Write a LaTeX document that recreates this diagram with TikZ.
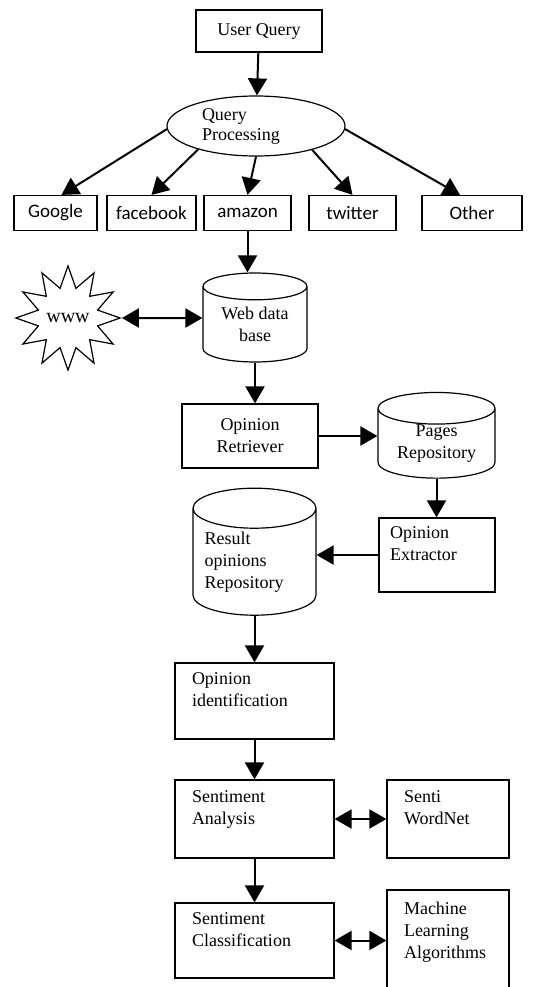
\documentclass[tikz,border=0pt]{standalone}
\usepackage{fontspec}
\setmainfont{Liberation Serif}
\newfontfamily\rowfont{Carlito}
\usetikzlibrary{arrows.meta,shapes.geometric}

\begin{document}
\begin{tikzpicture}[x=1pt,y=-1pt]
\tikzset{box/.style = {shape=rectangle,draw,line width=1.2pt,font=\fontsize{18}{22}\selectfont,inner sep=0pt}}
\tikzset{tbox/.style = {box,align=left,inner xsep=17pt}}
\tikzset{site/.style = {box,font=\rowfont\fontsize{19}{22}\selectfont,minimum height=35pt}}
\tikzset{dbase/.style = {shape=cylinder,draw,line width=1.2pt,shape border rotate=90,aspect=0.4,font=\fontsize{18}{22}\selectfont,inner sep=0pt}}
\tikzset{edge/.style = {-{Triangle[length=17pt,width=19pt]},line width=2pt}}
\tikzset{dedge/.style = {{Triangle[length=17pt,width=19pt]}-{Triangle[length=17pt,width=19pt]},line width=2pt}}
\useasboundingbox (0,0) rectangle (533,987);
%vertices
% ----- query
\node[box,minimum width=126pt,minimum height=42pt] (uq) at (259,31) {User Query};
\node[shape=ellipse,draw,line width=1.2pt,align=left,text width=108pt,inner sep=0pt,font=\fontsize{18}{20}\selectfont,minimum width=178pt,minimum height=60pt] (qp) at (256,126) {Query\\Processing};

% ----- sites
\node[site,minimum width=83pt] (goo) at (55.5,213) {Google};
\node[site,minimum width=89pt] (fb) at (151.5,213) {facebook};
\node[site,minimum width=87pt] (amz) at (247.5,213) {amazon};
\node[site,minimum width=87pt] (tw) at (352.5,213) {twitter};
\node[site,minimum width=100pt] (oth) at (472,213) {Other};

% ----- data
\node[shape=star,star points=12,star point ratio=1.7,draw,line width=1.2pt,minimum size=100pt,inner sep=0pt,font=\fontsize{20}{22}\selectfont] (www) at (68,318) {www};
\node[dbase,minimum width=104pt,minimum height=89pt,align=center] (wdb) at (255,324.5) {Web data\\base};
\node[box,minimum width=136pt,minimum height=64pt,align=center] (ret) at (250,436) {Opinion\\Retriever};
\node[dbase,minimum width=117pt,minimum height=83pt,align=center] (pages) at (436.5,443.5) {Pages\\Repository};
\node[tbox,text width=94pt,inner xsep=11pt,minimum height=74pt] (ext) at (437,555) {Opinion\\Extractor\\ \mbox{}};
\node[dbase,minimum width=123pt,minimum height=127pt,align=left,text width=100pt] (res) at (254.5,562) {Result\\opinions\\Repository};

% ----- sentiment
\node[tbox,text width=125pt,minimum height=76pt] (oid) at (254.5,701) {Opinion\\identification\\ \mbox{}};
\node[tbox,text width=125pt,minimum height=78pt] (sa) at (254.5,819) {Sentiment\\Analysis\\ \mbox{}};
\node[tbox,text width=88pt,minimum height=78pt] (swn) at (448,819) {Senti\\WordNet\\ \mbox{}};
\node[tbox,text width=125pt,minimum height=75pt] (sc) at (254.5,940.5) {Sentiment\\Classification\\ \mbox{}};
\node[tbox,text width=88pt,minimum height=102pt] (mla) at (448,941) {Machine\\Learning\\Algorithms\\ \mbox{}};

%edges
\draw[edge] (uq) -- (qp);
\draw[edge] (qp.182) -- ([xshift=6pt]goo.north);
\draw[edge] (qp.202) -- (fb.north);
\draw[edge] (qp.270) -- (amz.north);
\draw[edge] (qp.337) -- (tw.north);
\draw[edge] (qp.358) -- ([xshift=-12pt]oth.north);

\draw[edge] (amz.south) -- (amz.south |- wdb.north);
\draw[dedge] (www) -- (www -| wdb.west);
\draw[edge] (wdb.south) -- (wdb.south |- ret.north);
\draw[edge] (ret.east) -- (ret.east -| pages.west);
\draw[edge] (pages.south) -- (pages.south |- ext.north);
\draw[edge] (ext.west) -- (ext.west -| res.east);
\draw[edge] (res.south) -- (res.south |- oid.north);

\draw[edge] (oid) -- (sa);
\draw[dedge] (sa) -- (swn);
\draw[edge] (sa) -- (sc);
\draw[dedge] (sc.east) -- (sc.east -| mla.west);
\end{tikzpicture}
\end{document}
